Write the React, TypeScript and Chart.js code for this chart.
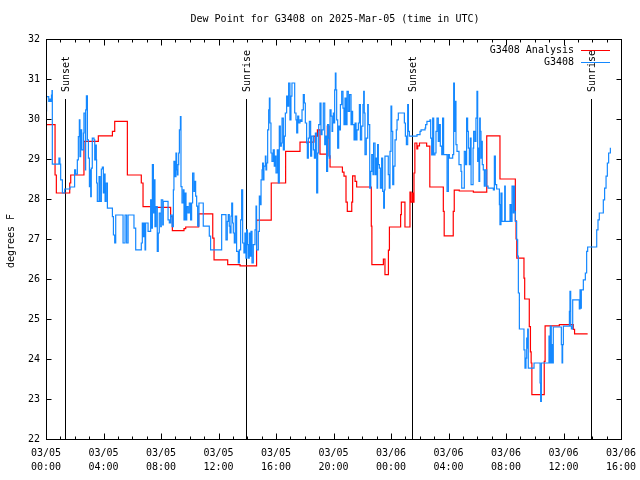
import React, { useEffect, useRef } from "react";
import { Chart, registerables } from "chart.js";

Chart.register(...registerables);

// ---------- data ----------
const chartTitle = "Dew Point for G3408 on 2025-Mar-05 (time in UTC)";
const yAxisTitle = "degrees F";
const seriesNames = ["G3408 Analysis", "G3408"];
const dayLabels = ["03/05", "03/06"];
const xMinHour = 0;
const xMaxHour = 40;
const yMin = 22;
const yMax = 32;
const eventHours = [1.34, 13.93, 25.43, 37.89];
const eventLabels = ["Sunset", "Sunrise", "Sunset", "Sunrise"];
const eventTopValue = 30.5;

// [hours since 03/05 00:00 UTC, dew point F]
const analysisSteps: [number, number][] = [
  [0, 29.86], [0.63, 28.6], [0.72, 28.15], [1.65, 28.4], [1.72, 28.6], [2.64, 29.44], [3.64, 29.58],
  [4.62, 29.69], [4.78, 29.94], [5.66, 28.6], [6.63, 28.4], [6.75, 27.81], [7.64, 27.79], [8.67, 27.56],
  [8.79, 27.21], [9.6, 27.26], [9.72, 27.3], [10.62, 27.63], [11.6, 27.02], [11.69, 26.48], [12.64, 26.36],
  [13.5, 26.33], [14.65, 27.47], [15.67, 28.4], [16.67, 29.19], [17.67, 29.42], [18.64, 29.57], [18.88, 29.73],
  [19.06, 29.12], [19.57, 29.82], [19.69, 29.08], [19.76, 28.8], [20.62, 28.67], [20.73, 28.57], [20.87, 27.92],
  [20.96, 27.69], [21.27, 27.92], [21.33, 28.58], [21.5, 28.44], [21.61, 28.3], [22.63, 27.32], [22.67, 26.36],
  [23.47, 26.5], [23.58, 26.11], [23.82, 26.72], [23.89, 27.3], [24.67, 27.61], [24.72, 27.92], [24.97, 27.3],
  [25.32, 28.17], [25.4, 27.92], [25.5, 28.15], [25.55, 27.92], [25.6, 28.65], [25.66, 29.4], [25.8, 29.25],
  [25.86, 29.33], [25.98, 29.4], [26.48, 29.32], [26.7, 28.3], [27.64, 27.69], [27.7, 27.08], [28.33, 27.69],
  [28.4, 28.22], [28.75, 28.2], [29.73, 28.17], [30.66, 29.58], [31.58, 28.5], [32.65, 27.46], [32.7, 27.0],
  [32.75, 26.52], [33.25, 26.02], [33.3, 25.5], [33.62, 24.81], [33.7, 24.18], [33.75, 23.9], [33.8, 23.11],
  [34.66, 23.94], [34.72, 24.83], [35.71, 24.86], [36.68, 24.74], [36.77, 24.63], [37.68, 24.63],
];

const observedSteps: [number, number][] = [
  [0.0, 30.2], [0.04, 30.56], [0.19, 30.44], [0.26, 30.5], [0.33, 30.44], [0.38, 30.6], [0.42, 30.71],
  [0.44, 28.87], [0.9, 29.02], [0.97, 28.87], [1.02, 28.48], [1.14, 28.15], [1.3, 28.25], [1.67, 28.3],
  [1.99, 28.73], [2.06, 28.62], [2.18, 28.98], [2.25, 29.56], [2.32, 29.98], [2.36, 29.06], [2.41, 29.73],
  [2.48, 29.23], [2.6, 29.65], [2.64, 30.15], [2.74, 28.73], [2.76, 30.23], [2.81, 30.58], [2.88, 29.48],
  [2.95, 29.02], [3.02, 28.31], [3.06, 28.73], [3.11, 28.06], [3.15, 28.77], [3.22, 29.52], [3.34, 29.48],
  [3.39, 28.98], [3.46, 29.35], [3.5, 28.98], [3.52, 28.4], [3.57, 27.94], [3.69, 28.56], [3.76, 27.94],
  [3.85, 28.75], [3.92, 28.8], [3.99, 28.15], [4.04, 28.62], [4.11, 27.94], [4.18, 28.4], [4.27, 27.77],
  [4.62, 27.56], [4.69, 27.1], [4.78, 26.9], [4.85, 27.6], [5.36, 26.9], [5.5, 27.6], [5.61, 26.9],
  [5.71, 27.6], [6.12, 27.27], [6.24, 26.73], [6.63, 26.9], [6.7, 27.4], [6.77, 27.06], [6.82, 27.4],
  [6.89, 26.73], [6.93, 27.4], [7.1, 27.19], [7.28, 27.98], [7.35, 27.27], [7.4, 28.86], [7.47, 27.65],
  [7.51, 28.48], [7.58, 27.31], [7.65, 27.81], [7.74, 26.69], [7.81, 27.15], [7.88, 27.65], [7.98, 27.31],
  [8.02, 27.98], [8.12, 27.35], [8.16, 27.94], [8.49, 27.48], [8.58, 27.4], [8.67, 27.6], [8.77, 27.31],
  [8.86, 28.23], [8.9, 28.94], [8.97, 28.56], [9.04, 29.15], [9.09, 28.73], [9.14, 28.6], [9.18, 28.86],
  [9.23, 29.15], [9.28, 29.73], [9.35, 30.06], [9.39, 28.31], [9.46, 27.9], [9.55, 28.23], [9.6, 27.48],
  [9.67, 28.15], [9.74, 27.48], [9.79, 27.81], [9.88, 27.65], [9.97, 27.9], [10.06, 27.48], [10.13, 27.9],
  [10.2, 28.65], [10.29, 28.19], [10.37, 28.44], [10.41, 28.07], [10.48, 27.82], [10.55, 27.32], [10.64, 27.9],
  [10.94, 27.32], [11.36, 27.07], [11.45, 26.73], [12.22, 27.61], [12.52, 26.98], [12.61, 27.44], [12.68, 27.61],
  [12.75, 27.32], [12.8, 27.15], [12.87, 27.57], [12.92, 27.9], [12.98, 27.4], [13.03, 27.15], [13.1, 26.9],
  [13.17, 27.57], [13.26, 26.69], [13.38, 26.4], [13.45, 26.73], [13.54, 27.48], [13.61, 28.23], [13.68, 26.9],
  [13.77, 26.65], [13.84, 27.15], [13.91, 26.52], [13.96, 27.23], [14.01, 26.86], [14.07, 26.52], [14.14, 27.15],
  [14.19, 26.57], [14.26, 27.19], [14.33, 26.4], [14.42, 26.86], [14.54, 27.23], [14.61, 27.82], [14.65, 26.73],
  [14.77, 27.19], [14.84, 28.07], [14.89, 27.86], [14.96, 28.48], [15.03, 28.73], [15.07, 28.9], [15.12, 28.48],
  [15.16, 28.82], [15.26, 29.07], [15.3, 28.73], [15.35, 28.9], [15.42, 29.73], [15.49, 30.23], [15.54, 30.52],
  [15.58, 29.9], [15.65, 29.15], [15.72, 28.94], [15.81, 29.23], [15.88, 28.82], [15.95, 29.07], [16.0, 28.65],
  [16.09, 29.23], [16.16, 28.4], [16.23, 29.82], [16.3, 29.32], [16.37, 29.4], [16.42, 30.02], [16.51, 29.23],
  [16.58, 29.57], [16.65, 30.15], [16.74, 30.57], [16.81, 30.32], [16.88, 30.9], [16.97, 29.98], [17.04, 30.57],
  [17.11, 30.9], [17.3, 30.15], [17.39, 29.98], [17.44, 29.65], [17.51, 30.07], [17.58, 29.9], [17.67, 29.98],
  [17.74, 29.94], [17.81, 30.23], [17.9, 30.61], [17.97, 30.4], [18.04, 29.9], [18.13, 29.4], [18.18, 29.02],
  [18.25, 29.52], [18.32, 29.94], [18.41, 29.07], [18.48, 29.57], [18.6, 29.23], [18.67, 29.02], [18.74, 29.65],
  [18.83, 28.15], [18.9, 29.15], [18.97, 29.86], [19.06, 30.4], [19.13, 29.61], [19.2, 29.73], [19.29, 30.4],
  [19.39, 29.36], [19.46, 29.57], [19.52, 28.69], [19.59, 29.86], [19.66, 29.52], [19.71, 29.02], [19.76, 30.23],
  [19.83, 30.07], [19.9, 29.69], [19.94, 29.9], [19.99, 30.15], [20.03, 29.9], [20.08, 30.73], [20.13, 31.15],
  [20.17, 30.73], [20.22, 29.98], [20.29, 29.27], [20.36, 29.82], [20.41, 29.73], [20.48, 30.36], [20.57, 30.69],
  [20.66, 30.27], [20.73, 29.86], [20.8, 30.52], [20.87, 29.86], [20.94, 30.69], [21.03, 30.19], [21.12, 30.61],
  [21.22, 29.86], [21.26, 30.19], [21.33, 29.86], [21.43, 29.48], [21.5, 29.9], [21.57, 29.48], [21.63, 29.73],
  [21.73, 29.9], [21.8, 30.36], [21.87, 29.48], [21.96, 29.82], [22.05, 30.36], [22.1, 30.69], [22.14, 30.15],
  [22.19, 29.11], [22.28, 29.52], [22.38, 30.36], [22.42, 29.86], [22.52, 28.27], [22.59, 28.69], [22.66, 29.11],
  [22.75, 28.61], [22.79, 29.4], [22.89, 28.61], [22.96, 29.02], [23.03, 28.27], [23.07, 29.36], [23.12, 28.86],
  [23.19, 28.77], [23.26, 28.27], [23.35, 29.02], [23.42, 28.19], [23.49, 27.77], [23.54, 28.23], [23.58, 29.07],
  [23.81, 28.61], [23.88, 28.27], [23.93, 29.19], [24.0, 30.32], [24.05, 29.69], [24.12, 28.36], [24.19, 28.82],
  [24.28, 29.48], [24.37, 29.73], [24.42, 29.98], [24.51, 30.15], [24.93, 29.9], [25.0, 29.57], [25.07, 29.36],
  [25.16, 30.36], [25.21, 29.69], [25.28, 29.57], [25.81, 29.61], [26.02, 29.69], [26.09, 29.73], [26.37, 29.77],
  [26.41, 29.86], [26.5, 29.94], [26.71, 29.98], [26.76, 29.52], [26.83, 29.1], [26.9, 30.02], [26.97, 29.1],
  [27.06, 29.15], [27.13, 29.69], [27.2, 30.02], [27.29, 29.44], [27.36, 29.86], [27.43, 29.32], [27.53, 29.11],
  [27.59, 30.02], [27.66, 29.11], [27.9, 28.19], [27.99, 29.11], [28.06, 29.02], [28.29, 29.11], [28.36, 30.9],
  [28.41, 29.69], [28.45, 30.44], [28.52, 29.36], [28.59, 29.19], [28.73, 28.86], [28.87, 28.69], [28.92, 28.27],
  [29.1, 29.19], [29.19, 28.86], [29.26, 30.02], [29.33, 29.69], [29.38, 29.27], [29.45, 28.86], [29.52, 29.52],
  [29.57, 28.36], [29.71, 29.27], [29.75, 29.69], [29.84, 29.44], [29.91, 30.02], [29.98, 30.69], [30.03, 28.94],
  [30.08, 29.27], [30.12, 28.44], [30.17, 30.02], [30.21, 29.69], [30.26, 29.02], [30.31, 29.44], [30.35, 28.86],
  [30.42, 28.73], [30.49, 28.32], [30.56, 28.73], [30.66, 28.32], [30.75, 28.27], [31.12, 28.23], [31.19, 29.07],
  [31.26, 28.36], [31.35, 28.25], [31.54, 27.86], [31.58, 27.36], [31.65, 28.15], [31.72, 27.44], [31.91, 28.32],
  [31.95, 27.44], [32.28, 27.86], [32.35, 27.44], [32.42, 28.32], [32.51, 27.65], [32.56, 28.32], [32.6, 27.69],
  [32.65, 27.44], [32.74, 26.98], [32.81, 26.57], [32.86, 25.65], [32.93, 24.75], [33.25, 24.23], [33.32, 23.77],
  [33.39, 24.02], [33.44, 24.52], [33.48, 24.27], [33.51, 24.75], [33.55, 23.77], [33.95, 23.9], [34.37, 23.4],
  [34.41, 22.94], [34.46, 23.9], [34.99, 24.57], [35.04, 23.9], [35.08, 24.82], [35.15, 23.9], [35.2, 24.36],
  [35.25, 23.9], [35.29, 24.8], [35.85, 24.36], [35.9, 23.9], [35.94, 24.36], [35.99, 24.82], [36.41, 25.19],
  [36.45, 25.69], [36.5, 24.82], [36.55, 24.75], [36.64, 25.48], [37.1, 25.25], [37.15, 25.73], [37.19, 25.27],
  [37.24, 25.73], [37.38, 25.98], [37.52, 26.15], [37.61, 26.69], [37.68, 26.8], [38.31, 27.23], [38.4, 27.48],
  [38.49, 27.65], [38.77, 27.98], [38.86, 28.27], [38.96, 28.57], [39.05, 28.9], [39.14, 29.15], [39.26, 29.28],
];

// ---------- styling ----------
const FONT = '10px "DejaVu Sans Mono", monospace';
const RED = "#ff0000";
const BLUE = "#1488ff";

function hourLabel(v: number): string[] {
  const day = dayLabels[Math.floor(v / 24)] ?? dayLabels[dayLabels.length - 1];
  const hh = v % 24;
  return [day, `${String(hh).padStart(2, "0")}:00`];
}

const overlayPlugin = {
  id: "gnuOverlay",
  beforeDatasetsDraw(chart: any) {
    const { ctx, chartArea: a, scales } = chart;
    const x = scales.x;
    const y = scales.y;
    ctx.save();
    ctx.strokeStyle = "#000";
    ctx.lineWidth = 1;
    eventHours.forEach((h) => {
      const px = Math.round(x.getPixelForValue(h)) + 0.5;
      ctx.beginPath();
      ctx.moveTo(px, y.getPixelForValue(eventTopValue));
      ctx.lineTo(px, a.bottom);
      ctx.stroke();
    });
    ctx.restore();
  },
  afterDraw(chart: any) {
    const { ctx, chartArea: a, scales } = chart;
    const x = scales.x;
    const y = scales.y;
    const L = Math.round(a.left) + 0.5;
    const R = Math.round(a.right) + 0.5;
    const T = Math.round(a.top) + 0.5;
    const B = Math.round(a.bottom) + 0.5;
    ctx.save();
    ctx.strokeStyle = "#000";
    ctx.lineWidth = 1;
    ctx.strokeRect(L, T, R - L, B - T);
    // x ticks (major every 4h, minor every hour), bottom and top
    ctx.beginPath();
    for (let h = xMinHour; h <= xMaxHour; h++) {
      const px = Math.round(x.getPixelForValue(h)) + 0.5;
      const len = h % 4 === 0 ? 6 : 3;
      ctx.moveTo(px, B);
      ctx.lineTo(px, B - len);
      ctx.moveTo(px, T);
      ctx.lineTo(px, T + len);
    }
    // y ticks left and right
    for (let v = yMin; v <= yMax; v++) {
      const py = Math.round(y.getPixelForValue(v)) + 0.5;
      ctx.moveTo(L, py);
      ctx.lineTo(L + 5, py);
      ctx.moveTo(R, py);
      ctx.lineTo(R - 5, py);
    }
    ctx.stroke();

    ctx.fillStyle = "#000";
    ctx.font = FONT;
    // event labels (rotated)
    eventHours.forEach((h, i) => {
      const px = Math.round(x.getPixelForValue(h)) + 1;
      const top = y.getPixelForValue(eventTopValue);
      ctx.save();
      ctx.translate(px, top - 7);
      ctx.rotate(-Math.PI / 2);
      ctx.textAlign = "left";
      ctx.textBaseline = "middle";
      ctx.fillText(eventLabels[i], 0, 0);
      ctx.restore();
    });

    // title
    ctx.textAlign = "center";
    ctx.textBaseline = "middle";
    ctx.fillText(chartTitle, 335, 19);

    // y axis title
    ctx.save();
    ctx.translate(11, 241);
    ctx.rotate(-Math.PI / 2);
    ctx.textAlign = "center";
    ctx.textBaseline = "middle";
    ctx.fillText(yAxisTitle, 0, 0);
    ctx.restore();

    // legend
    const colors = [RED, BLUE];
    seriesNames.forEach((name, i) => {
      const ly = 50 + i * 12;
      ctx.fillStyle = "#000";
      ctx.textAlign = "right";
      ctx.textBaseline = "middle";
      ctx.fillText(name, 574, ly);
      ctx.strokeStyle = colors[i];
      ctx.lineWidth = 1;
      ctx.beginPath();
      ctx.moveTo(581, Math.round(ly) + 0.5);
      ctx.lineTo(610, Math.round(ly) + 0.5);
      ctx.stroke();
    });
    ctx.restore();
  },
};

export default function App() {
  const canvasRef = useRef<HTMLCanvasElement | null>(null);

  useEffect(() => {
    const canvas = canvasRef.current;
    if (!canvas) return;
    const chart = new Chart(canvas, {
      type: "line",
      data: {
        datasets: [
          {
            label: seriesNames[1],
            data: observedSteps.map(([h, v]) => ({ x: h, y: v })),
            borderColor: BLUE,
            borderWidth: 1.2,
            pointRadius: 0,
            stepped: "before",
            fill: false,
            order: 0,
          },
          {
            label: seriesNames[0],
            data: analysisSteps.map(([h, v]) => ({ x: h, y: v })),
            borderColor: RED,
            borderWidth: 1.2,
            pointRadius: 0,
            stepped: "before",
            fill: false,
            order: 1,
          },
        ],
      },
      options: {
        responsive: false,
        maintainAspectRatio: false,
        animation: false,
        events: [],
        layout: { padding: { left: 0, right: 19, top: 39, bottom: 0 } },
        plugins: {
          legend: { display: false },
          tooltip: { enabled: false },
          title: { display: false },
        },
        scales: {
          x: {
            type: "linear",
            min: xMinHour,
            max: xMaxHour,
            grid: { display: false, drawTicks: false },
            border: { display: false },
            afterFit: (scale: any) => {
              scale.height = 41;
              scale.paddingLeft = 0;
              scale.paddingRight = 0;
            },
            ticks: {
              stepSize: 4,
              autoSkip: false,
              maxRotation: 0,
              minRotation: 0,
              padding: 7,
              color: "#000",
              font: { family: '"DejaVu Sans Mono", monospace', size: 10, lineHeight: 1.4 },
              callback: (v: any) => hourLabel(Number(v)),
            },
          },
          y: {
            type: "linear",
            min: yMin,
            max: yMax,
            grid: { display: false, drawTicks: false },
            border: { display: false },
            afterFit: (scale: any) => {
              scale.width = 46;
              scale.paddingTop = 0;
              scale.paddingBottom = 0;
            },
            ticks: {
              stepSize: 1,
              padding: 6,
              color: "#000",
              font: { family: '"DejaVu Sans Mono", monospace', size: 10 },
            },
          },
        },
      },
      plugins: [overlayPlugin],
    });
    return () => chart.destroy();
  }, []);

  return (
    <div style={{ position: "absolute", left: 0, top: 0, width: 640, height: 480, background: "#fff" }}>
      <canvas ref={canvasRef} width={640} height={480} style={{ display: "block" }} />
    </div>
  );
}
